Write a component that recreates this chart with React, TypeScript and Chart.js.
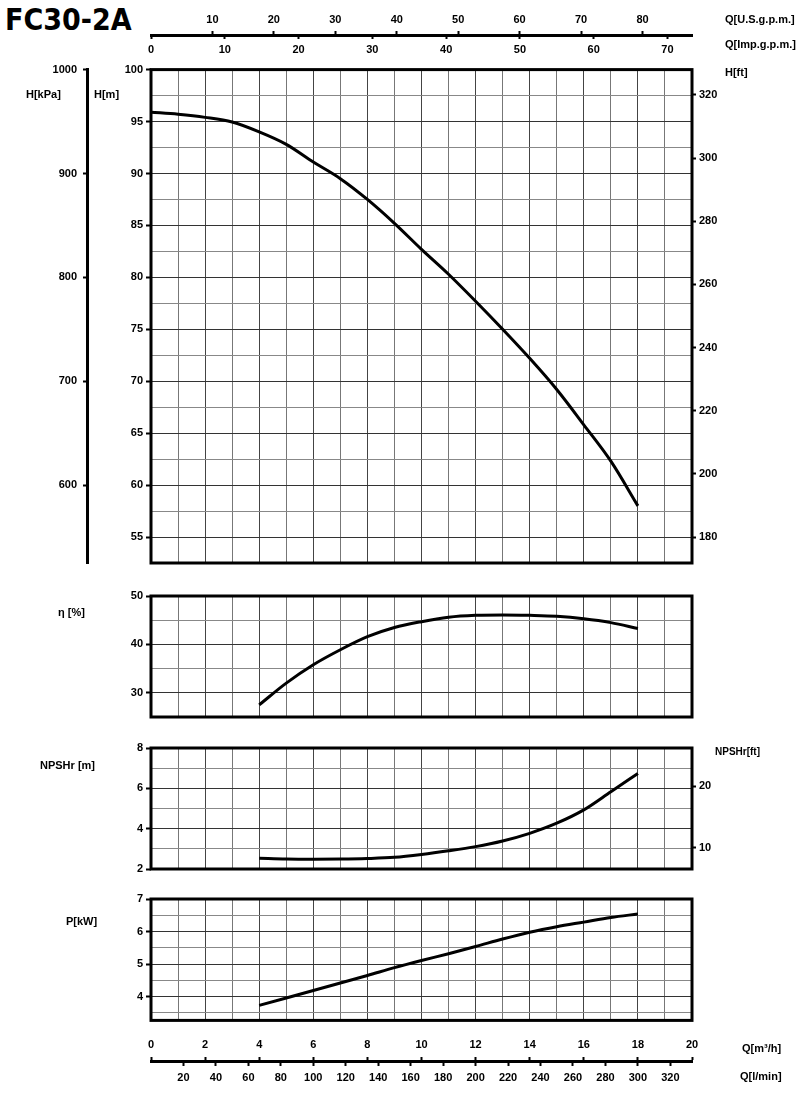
import React, { useEffect, useRef } from 'react';
import { Chart, registerables } from 'chart.js';

Chart.register(...registerables);
Chart.defaults.font.family = "'Liberation Sans', Arial, sans-serif";
Chart.defaults.color = '#000';

// ---------- data ----------
const TITLE = 'FC30-2A';

// flow (m³/h) grid
const Q_MIN = 0;
const Q_MAX = 20;
const Q_GRID = [0, 1, 2, 3, 4, 5, 6, 7, 8, 9, 10, 11, 12, 13, 14, 15, 16, 17, 18, 19, 20];
const Q_TICKS = [0, 2, 4, 6, 8, 10, 12, 14, 16, 18, 20];
const LMIN_TICKS = [20, 40, 60, 80, 100, 120, 140, 160, 180, 200, 220, 240, 260, 280, 300, 320];
const USGPM_TICKS = [10, 20, 30, 40, 50, 60, 70, 80];
const IMPGPM_TICKS = [0, 10, 20, 30, 40, 50, 60, 70];

// head curve
const Q_HEAD = [0, 1, 2, 3, 4, 5, 6, 7, 8, 9, 10, 11, 12, 13, 14, 15, 16, 17, 18];
const HEAD_M = [95.9, 95.7, 95.4, 94.95, 94.0, 92.8, 91.1, 89.5, 87.5, 85.2, 82.7, 80.3, 77.7, 75.0, 72.2, 69.2, 65.8, 62.3, 58.0];
const H_MIN = 52.5;
const H_MAX = 100;
const H_GRID = [55, 57.5, 60, 62.5, 65, 67.5, 70, 72.5, 75, 77.5, 80, 82.5, 85, 87.5, 90, 92.5, 95, 97.5, 100];
const KPA_MIN = 525;
const KPA_MAX = 1000;
const KPA_TICKS = [600, 700, 800, 900, 1000];
const FT_MIN = 171.8;
const FT_MAX = 328.0;
const FT_TICKS = [180, 200, 220, 240, 260, 280, 300, 320];

// efficiency curve
const Q_EFF = [4, 5, 6, 7, 8, 9, 10, 11, 12, 13, 14, 15, 16, 17, 18];
const EFF = [27.5, 32.0, 35.8, 38.9, 41.6, 43.5, 44.7, 45.6, 46.0, 46.1, 46.0, 45.8, 45.3, 44.5, 43.3];
const EFF_MIN = 25;
const EFF_MAX = 50;
const EFF_GRID = [30, 35, 40, 45, 50];

// NPSHr curve
const Q_NPSH = [4, 5, 6, 7, 8, 9, 10, 11, 12, 13, 14, 15, 16, 17, 18];
const NPSH = [2.53, 2.49, 2.48, 2.49, 2.52, 2.58, 2.72, 2.9, 3.11, 3.39, 3.77, 4.27, 4.93, 5.83, 6.74];
const NPSH_MIN = 2;
const NPSH_MAX = 8;
const NPSH_GRID = [2, 3, 4, 5, 6, 7, 8];
const NPSH_FT_MIN = 6.56;
const NPSH_FT_MAX = 26.25;
const NPSH_FT_TICKS = [10, 20];

// power curve
const Q_POW = [4, 5, 6, 7, 8, 9, 10, 11, 12, 13, 14, 15, 16, 17, 18];
const POW = [3.73, 3.96, 4.19, 4.42, 4.65, 4.89, 5.11, 5.32, 5.54, 5.77, 5.98, 6.15, 6.29, 6.43, 6.54];
const P_MIN = 3.27;
const P_MAX = 7;
const P_GRID = [3.5, 4, 4.5, 5, 5.5, 6, 6.5, 7];

// unit conversions for secondary flow axes
const USGPM_PER_M3H = 4.4029;
const IMPGPM_PER_M3H = 3.6662;
const LMIN_PER_M3H = 16.6667;

// ---------- helpers ----------
const FONT = { size: 11, weight: 'bold' as const };
const plain = (v: number) => String(v);
const setTicks = (vals: number[]) => (s: any) => {
  s.ticks = vals.map((v) => ({ value: v }));
};
const fixW = (w: number) => (s: any) => {
  s.width = w;
};
const fixH = (h: number) => (s: any) => {
  s.height = h;
};
const isMul = (v: number, step: number) => Math.abs(v / step - Math.round(v / step)) < 1e-6;

const framePlugin = {
  id: 'frame',
  afterDraw(chart: any) {
    const { ctx, chartArea } = chart;
    ctx.save();
    ctx.strokeStyle = '#000';
    ctx.lineWidth = 3;
    ctx.strokeRect(chartArea.left, chartArea.top, chartArea.right - chartArea.left, chartArea.bottom - chartArea.top);
    ctx.restore();
  },
};

const xGridScale = () => ({
  type: 'linear',
  position: 'bottom',
  min: Q_MIN,
  max: Q_MAX,
  afterBuildTicks: setTicks(Q_GRID),
  ticks: { display: false },
  grid: { color: (c: any) => (c.tick && isMul(c.tick.value, 2) ? '#444' : '#777'), lineWidth: 1, drawTicks: false },
  border: { display: false },
  afterFit: fixH(0),
});

const yPanelScale = (min: number, max: number, grid: number[], labelStep: number, width: number) => ({
  type: 'linear',
  position: 'left',
  weight: 0,
  min,
  max,
  afterBuildTicks: setTicks(grid),
  ticks: {
    autoSkip: false,
    padding: 3,
    font: FONT,
    color: '#000',
    callback: (v: number) => (isMul(v, labelStep) ? String(v) : ''),
  },
  grid: {
    color: (c: any) => (c.tick && isMul(c.tick.value, labelStep) ? '#333' : '#888'),
    tickColor: (c: any) => (c.tick && isMul(c.tick.value, labelStep) ? '#000' : 'rgba(0,0,0,0)'),
    tickLength: 5,
    tickWidth: 2,
    lineWidth: 1,
  },
  border: { display: false },
  afterFit: fixW(width),
});

const rightScale = (min: number, max: number, ticks: number[]) => ({
  type: 'linear',
  position: 'right',
  min,
  max,
  afterBuildTicks: setTicks(ticks),
  ticks: { autoSkip: false, padding: 3, font: FONT, color: '#000', callback: plain },
  grid: { drawOnChartArea: false, tickLength: 4, tickWidth: 2, color: '#000' },
  border: { display: false },
  afterFit: fixW(108),
});

const curve = (qs: number[], vs: number[]) => ({
  data: qs.map((q, i) => ({ x: q, y: vs[i] })),
  borderColor: '#000',
  borderWidth: 3,
  pointRadius: 0,
  fill: false,
  cubicInterpolationMode: 'monotone' as const,
  tension: 0.4,
  xAxisID: 'x',
  yAxisID: 'y',
});

const baseOptions = (padding: any, scales: any) => ({
  responsive: false,
  maintainAspectRatio: false,
  animation: false as const,
  events: [],
  layout: { padding },
  plugins: { legend: { display: false }, tooltip: { enabled: false }, title: { display: false } },
  scales,
});

const flowAxis = (position: string, factor: number, ticks: number[], height: number, showBorder: boolean, padding: number) => ({
  type: 'linear',
  position,
  min: Q_MIN * factor,
  max: Q_MAX * factor,
  afterBuildTicks: setTicks(ticks),
  ticks: { autoSkip: false, padding, font: FONT, color: '#000', maxRotation: 0, callback: plain },
  grid: { drawOnChartArea: false, tickLength: 4, tickWidth: 2, color: '#000' },
  border: showBorder ? { display: true, width: 3, color: '#000' } : { display: false },
  afterFit: fixH(height),
});

// ---------- configs ----------
const topAxisConfig = () => ({
  type: 'line',
  data: { datasets: [] },
  options: baseOptions(
    { left: 151, right: 108, top: 0, bottom: 0 },
    {
      us: flowAxis('top', USGPM_PER_M3H, USGPM_TICKS, 35, true, 4),
      imp: flowAxis('bottom', IMPGPM_PER_M3H, IMPGPM_TICKS, 28, false, 4),
    }
  ),
});

const headConfig = () => ({
  type: 'line',
  data: { datasets: [curve(Q_HEAD, HEAD_M)] },
  options: baseOptions(
    { left: 0, right: 0, top: 12, bottom: 14 },
    {
      x: xGridScale(),
      y: yPanelScale(H_MIN, H_MAX, H_GRID, 5, 64),
      kpa: {
        type: 'linear',
        position: 'left',
        weight: 1,
        min: KPA_MIN,
        max: KPA_MAX,
        afterBuildTicks: setTicks(KPA_TICKS),
        ticks: { autoSkip: false, padding: 6, font: FONT, color: '#000', callback: plain },
        grid: { drawOnChartArea: false, tickLength: 4, tickWidth: 2, color: '#000' },
        border: { display: true, width: 3, color: '#000' },
        afterFit: fixW(87),
      },
      ft: rightScale(FT_MIN, FT_MAX, FT_TICKS),
    }
  ),
  plugins: [framePlugin],
});

const effConfig = () => ({
  type: 'line',
  data: { datasets: [curve(Q_EFF, EFF)] },
  options: baseOptions(
    { left: 0, right: 108, top: 11, bottom: 13 },
    {
      x: xGridScale(),
      y: yPanelScale(EFF_MIN, EFF_MAX, EFF_GRID, 10, 151),
    }
  ),
  plugins: [framePlugin],
});

const npshConfig = () => ({
  type: 'line',
  data: { datasets: [curve(Q_NPSH, NPSH)] },
  options: baseOptions(
    { left: 0, right: 0, top: 11, bottom: 11 },
    {
      x: xGridScale(),
      y: yPanelScale(NPSH_MIN, NPSH_MAX, NPSH_GRID, 2, 151),
      ft: rightScale(NPSH_FT_MIN, NPSH_FT_MAX, NPSH_FT_TICKS),
    }
  ),
  plugins: [framePlugin],
});

const powConfig = () => ({
  type: 'line',
  data: { datasets: [curve(Q_POW, POW)] },
  options: baseOptions(
    { left: 0, right: 108, top: 11, bottom: 9 },
    {
      x: xGridScale(),
      y: yPanelScale(P_MIN, P_MAX, P_GRID, 1, 151),
    }
  ),
  plugins: [framePlugin],
});

const bottomAxisConfig = () => ({
  type: 'line',
  data: { datasets: [] },
  options: baseOptions(
    { left: 151, right: 108, top: 0, bottom: 0 },
    {
      m3h: flowAxis('top', 1, Q_TICKS, 31, true, 5),
      lmin: flowAxis('bottom', LMIN_PER_M3H, LMIN_TICKS, 45, false, 5),
    }
  ),
});

// ---------- components ----------
function ChartBox({ top, height, make }: { top: number; height: number; make: () => any }) {
  const ref = useRef<HTMLCanvasElement>(null);
  useEffect(() => {
    const chart = new Chart(ref.current as HTMLCanvasElement, make());
    return () => chart.destroy();
  }, []);
  return (
    <div style={{ position: 'absolute', left: 0, top, width: 800, height }}>
      <canvas ref={ref} width={800} height={height} style={{ display: 'block', width: 800, height }} />
    </div>
  );
}

function Label({ x, y, text, size = 11 }: { x: number; y: number; text: React.ReactNode; size?: number }) {
  return (
    <div
      style={{
        position: 'absolute',
        left: x,
        top: y,
        transform: 'translateY(-50%)',
        font: `bold ${size}px 'Liberation Sans', Arial, sans-serif`,
        lineHeight: 1,
        whiteSpace: 'nowrap',
        color: '#000',
      }}
    >
      {text}
    </div>
  );
}

export default function App() {
  return (
    <div style={{ position: 'absolute', left: 0, top: 0, width: 800, height: 1107, background: '#fff', overflow: 'hidden' }}>
      <div
        style={{
          position: 'absolute',
          left: 5,
          top: 5,
          font: "bold 30px 'DejaVu Sans Condensed', 'Liberation Sans', Arial, sans-serif",
          lineHeight: 1,
          color: '#000',
        }}
      >
        {TITLE}
      </div>
      <ChartBox top={0} height={63} make={topAxisConfig} />
      <ChartBox top={57} height={520} make={headConfig} />
      <ChartBox top={585} height={145} make={effConfig} />
      <ChartBox top={737} height={143} make={npshConfig} />
      <ChartBox top={888} height={142} make={powConfig} />
      <ChartBox top={1030} height={77} make={bottomAxisConfig} />

      <Label x={725} y={19} text="Q[U.S.g.p.m.]" />
      <Label x={725} y={44} text="Q[Imp.g.p.m.]" />
      <Label x={725} y={72} text="H[ft]" />
      <Label x={26} y={94} text="H[kPa]" />
      <Label x={94} y={94} text="H[m]" />
      <Label x={58} y={612} text="η [%]" />
      <Label x={40} y={765} text="NPSHr [m]" />
      <Label x={715} y={752} text="NPSHr[ft]" size={10} />
      <Label x={66} y={921} text="P[kW]" />
      <Label x={742} y={1048} text="Q[m³/h]" />
      <Label x={740} y={1076} text="Q[l/min]" />
    </div>
  );
}
